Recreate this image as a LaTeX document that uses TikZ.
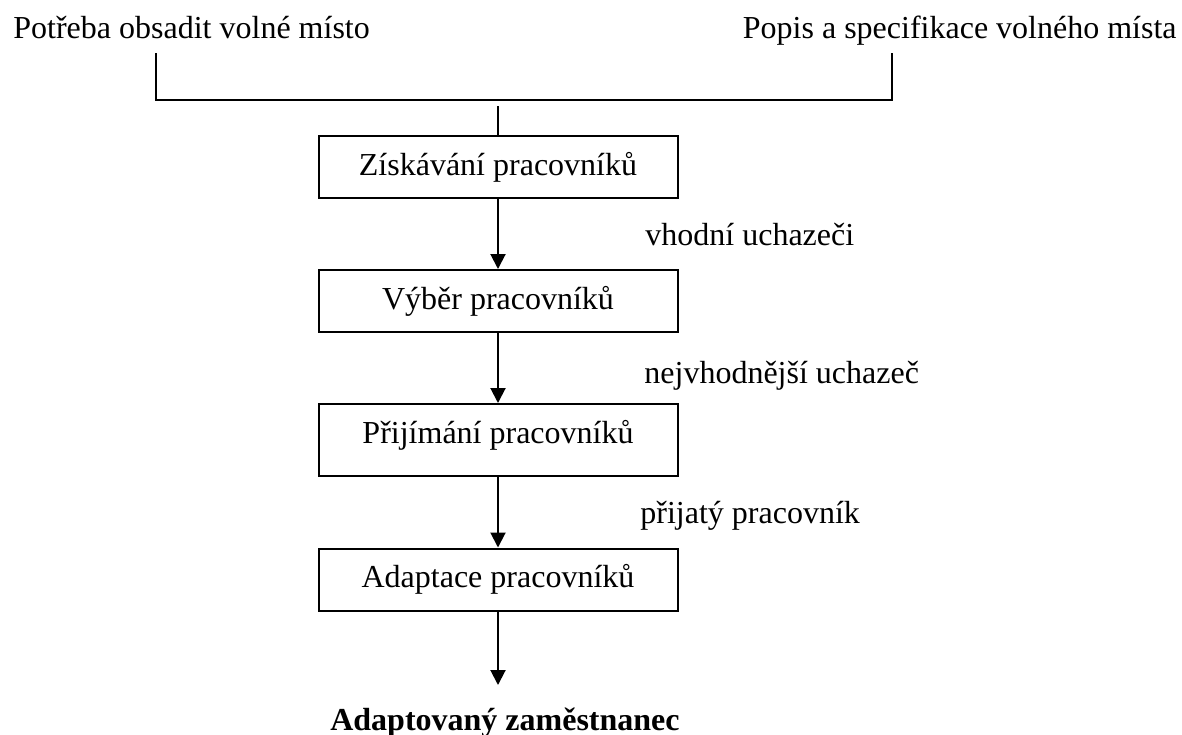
\documentclass[tikz,border=0pt]{standalone}
\usepackage{fontspec}
\setmainfont{Liberation Serif}
\usetikzlibrary{arrows.meta, positioning}

\begin{document}
\begin{tikzpicture}[
        x=0.5pt, y=-0.5pt,
        phase/.style={rectangle, draw=black, line width=1pt, minimum width=179.5pt, minimum height=31pt, align=center, font=\fontsize{16}{18}\selectfont, inner sep=0pt},
        tallphase/.style={phase, minimum height=36pt, text depth=8.5pt},
        src/.style={font=\fontsize{16}{18}\selectfont, inner sep=0pt},
        flowlbl/.style={font=\fontsize{16}{18}\selectfont, anchor=base west, inner sep=0pt},
        line/.style={draw=black, line width=1pt},
        flow/.style={line, -{Triangle[length=7.5pt, width=7.5pt]}}
    ]
        \useasboundingbox (0,0) rectangle (1182,734);

        % ----------------------------------------------------
        % INPUTS (top)
        % ----------------------------------------------------
        \node[src, anchor=base west] (need) at (13,38) {Potřeba obsadit volné místo};
        \node[src, anchor=base east] (spec) at (1177,38) {Popis a specifikace volného místa};
        \coordinate (needend) at (156,53);
        \coordinate (specend) at (892,53);
        \coordinate (join) at (498,106);
        \draw[line] (needend) -- ++(0,47) -| (specend);

        % ----------------------------------------------------
        % PHASES
        % ----------------------------------------------------
        \node[phase] (ziskani) at (498,167) {Získávání pracovníků};
        \node[phase] (vyber) at (498,301) {Výběr pracovníků};
        \node[tallphase] (prijeti) at (498,440) {Přijímání pracovníků};
        \node[phase] (adaptace) at (498,579.5) {Adaptace pracovníků};

        \node[font=\fontsize{16}{18}\selectfont\bfseries, inner sep=0pt, anchor=base] (vysledek) at (505,730) {Adaptovaný zaměstnanec};
        \coordinate (konec) at (498,685);

        % ----------------------------------------------------
        % CONNECTIONS
        % ----------------------------------------------------
        \draw[line] (join) -- (ziskani.north);
        \draw[flow] (ziskani.south) -- (vyber.north);
        \draw[flow] (vyber.south) -- (prijeti.north);
        \draw[flow] (prijeti.south) -- (adaptace.north);
        \draw[flow] (adaptace.south) -- (konec);

        \node[flowlbl] (lbl1) at (645,245) {vhodní uchazeči};
        \node[flowlbl] (lbl2) at (644,383) {nejvhodnější uchazeč};
        \node[flowlbl] (lbl3) at (640,523) {přijatý pracovník};
    \end{tikzpicture}
\end{document}
